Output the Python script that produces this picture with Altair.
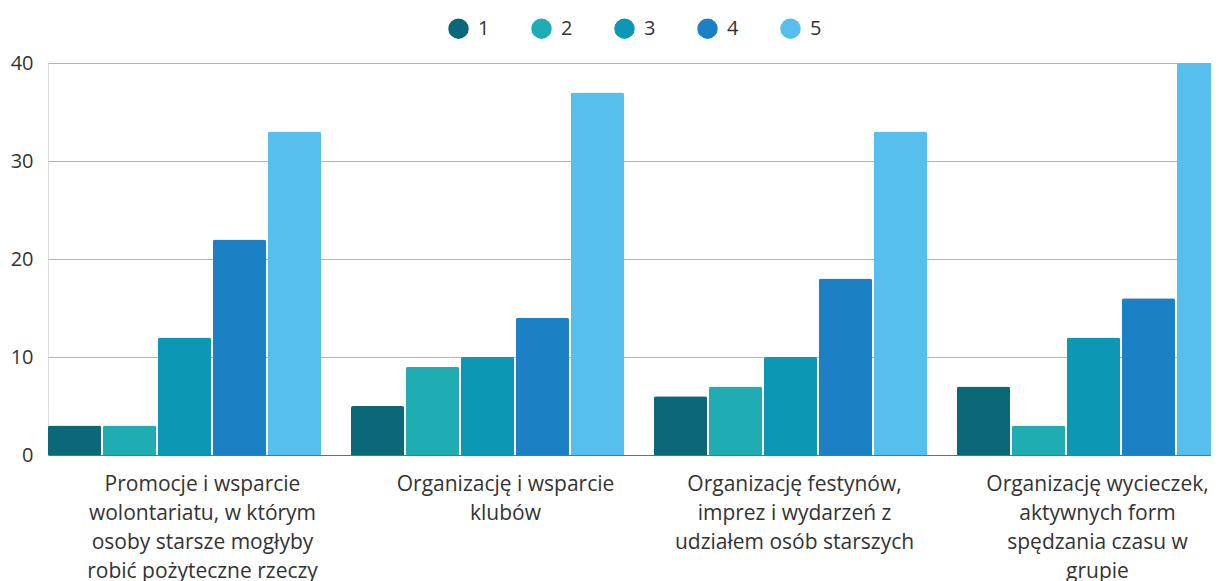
import altair as alt
import pandas as pd

categories = [
    "Promocje i wsparcie|wolontariatu, w którym|osoby starsze mogłyby|robić pożyteczne rzeczy",
    "Organizację i wsparcie|klubów",
    "Organizację festynów,|imprez i wydarzeń z|udziałem osób starszych",
    "Organizację wycieczek,|aktywnych form|spędzania czasu w|grupie",
]
series = ["1", "2", "3", "4", "5"]
values_1 = [3, 5, 6, 7]
values_2 = [3, 9, 7, 3]
values_3 = [12, 10, 10, 12]
values_4 = [22, 14, 18, 16]
values_5 = [33, 37, 33, 40]
colors = ["#0b6878", "#1fadb3", "#0c98b4", "#1b80c4", "#57bfed"]

rows = []
for s, vals in zip(series, [values_1, values_2, values_3, values_4, values_5]):
    for c, v in zip(categories, vals):
        rows.append({"category": c, "series": s, "value": v})
df = pd.DataFrame(rows)

FONT = "Open Sans"
TXT = "#333333"

left_test = " || ".join(f"datum.value == '{c}'" for c in categories[:2])

chart = (
    alt.Chart(df)
    .mark_bar(cornerRadiusTopLeft=2, cornerRadiusTopRight=2)
    .encode(
        x=alt.X(
            "category:N",
            sort=categories,
            scale=alt.Scale(range=[0, 1182], paddingInner=0.099, paddingOuter=0),
            axis=alt.Axis(
                title=None,
                labelAngle=0,
                labelExpr="split(datum.label, '|')",
                labelFont=FONT,
                labelFontSize=21,
                labelColor=TXT,
                labelLineHeight=29,
                labelPadding=18,
                labelOffset={"condition": {"test": left_test, "value": 18}, "value": 4},
                labelLimit=400,
                ticks=False,
                tickSize=0,
                domain=True,
                domainColor="#6e6e6e",
                domainWidth=1,
                grid=False,
            ),
        ),
        xOffset=alt.XOffset(
            "series:N",
            sort=series,
            scale=alt.Scale(range=[0, 273], paddingInner=0.036, paddingOuter=0),
        ),
        y=alt.Y(
            "value:Q",
            scale=alt.Scale(domain=[0, 40], nice=False),
            axis=alt.Axis(
                title=None,
                values=[0, 10, 20, 30, 40],
                labelFont=FONT,
                labelFontSize=20,
                labelColor=TXT,
                labelPadding=15,
                ticks=False,
                tickSize=0,
                domain=False,
                grid=True,
                gridColor="#b3b3b3",
                gridWidth=1,
            ),
        ),
        color=alt.Color(
            "series:N",
            sort=series,
            scale=alt.Scale(domain=series, range=colors),
            legend=alt.Legend(
                title=None,
                orient="none",
                legendX=400,
                legendY=-45,
                direction="horizontal",
                symbolType="circle",
                symbolSize=420,
                symbolStrokeWidth=0,
                labelFont=FONT,
                labelFontSize=20,
                labelColor=TXT,
                labelOffset=9,
                columnPadding=41,
                padding=0,
            ),
        ),
    )
    .properties(
        width=1163,
        height=392,
        autosize=alt.AutoSizeParams(type="none"),
        padding={"left": 40, "top": 55, "right": 0, "bottom": 135},
    )
    .configure_view(stroke=None)
    .configure(background="white")
)

chart.save("out.html", embed_options={"renderer": "svg", "actions": False})
